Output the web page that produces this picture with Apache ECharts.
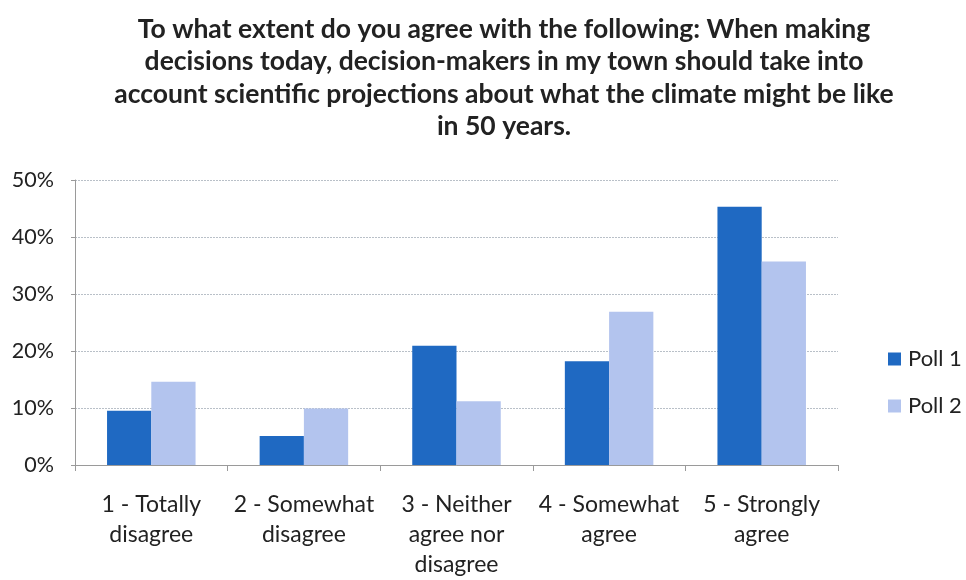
<!DOCTYPE html>
<html>
<head>
<meta charset="utf-8">
<script src="https://cdn.jsdelivr.net/npm/echarts@6/dist/echarts.min.js"></script>
<style>html,body{margin:0;padding:0;background:#fff;overflow:hidden}#c{width:966px;height:580px}</style>
</head>
<body>
<div id="c"></div>
<script>
const titleLines = [
  "To what extent do you agree with the following: When making",
  "decisions today, decision-makers in my town should take into",
  "account scientific projections about what the climate might be like",
  "in 50 years."
];
const categories = [
  "1 - Totally\ndisagree",
  "2 - Somewhat\ndisagree",
  "3 - Neither\nagree nor\ndisagree",
  "4 - Somewhat\nagree",
  "5 - Strongly\nagree"
];
const seriesNames = ["Poll 1", "Poll 2"];
const poll1 = [9.5, 5.1, 20.9, 18.2, 45.3];
const poll2 = [14.6, 9.9, 11.2, 26.9, 35.7];
const yTicks = [0, 10, 20, 30, 40, 50];

const FONT = "Lato";
const chart = echarts.init(document.getElementById('c'));
chart.setOption({
  backgroundColor: '#ffffff',
  animation: false,
  textStyle: { fontFamily: FONT },
  title: {
    text: titleLines.join('\n'),
    left: 499, top: 8, textAlign: 'center',
    textStyle: { fontFamily: FONT, fontWeight: 'bold', fontSize: 26.5, lineHeight: 32.5, color: '#222' }
  },
  legend: {
    orient: 'vertical', left: 883, top: 343,
    itemWidth: 13, itemHeight: 13, itemGap: 25,
    icon: 'rect',
    textStyle: { fontFamily: FONT, fontSize: 22, color: '#222', padding: [0, 0, 0, 2] },
    data: seriesNames
  },
  grid: { left: 75, right: 128, top: 180, bottom: 106, containLabel: false },
  xAxis: {
    type: 'category', data: categories,
    axisLine: { lineStyle: { color: '#9a9a9a' } },
    axisTick: { show: true, length: 6, lineStyle: { color: '#9a9a9a' } },
    axisLabel: { fontFamily: FONT, fontSize: 23, color: '#222', lineHeight: 30, margin: 25, interval: 0 }
  },
  yAxis: {
    type: 'value', min: 0, max: 50, interval: 10,
    axisLine: { show: true, lineStyle: { color: '#9a9a9a' } },
    axisTick: { show: true, length: 4, lineStyle: { color: '#9a9a9a' } },
    splitLine: { lineStyle: { color: '#b9c0c8', type: [2, 1] } },
    axisLabel: { fontFamily: FONT, fontSize: 21.5, color: '#222', margin: 21, formatter: v => yTicks.includes(v) ? v + '%' : '' }
  },
  series: [
    { name: seriesNames[0], type: 'bar', data: poll1, barGap: '0%', barCategoryGap: '42%', itemStyle: { color: '#1f69c2' } },
    { name: seriesNames[1], type: 'bar', data: poll2, barGap: '0%', barCategoryGap: '42%', itemStyle: { color: '#b3c4ee' } }
  ]
});
</script>
</body>
</html>
